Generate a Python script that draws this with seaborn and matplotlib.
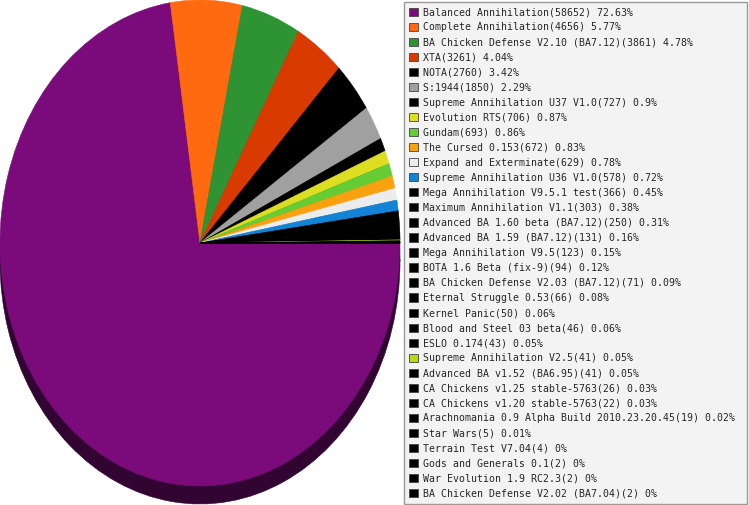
import numpy as np
import matplotlib
matplotlib.use("Agg")
import matplotlib.pyplot as plt
import matplotlib.colors as mcolors
from matplotlib.patches import Patch
import seaborn as sns

# mod names, game counts and the shares printed in the legend
mods = [
    "Balanced Annihilation", "Complete Annihilation", "BA Chicken Defense V2.10 (BA7.12)",
    "XTA", "NOTA", "S:1944", "Supreme Annihilation U37 V1.0", "Evolution RTS", "Gundam",
    "The Cursed 0.153", "Expand and Exterminate", "Supreme Annihilation U36 V1.0",
    "Mega Annihilation V9.5.1 test", "Maximum Annihilation V1.1", "Advanced BA 1.60 beta (BA7.12)",
    "Advanced BA 1.59 (BA7.12)", "Mega Annihilation V9.5", "BOTA 1.6 Beta (fix-9)",
    "BA Chicken Defense V2.03 (BA7.12)", "Eternal Struggle 0.53", "Kernel Panic",
    "Blood and Steel 03 beta", "ESLO 0.174", "Supreme Annihilation V2.5",
    "Advanced BA v1.52 (BA6.95)", "CA Chickens v1.25 stable-5763", "CA Chickens v1.20 stable-5763",
    "Arachnomania 0.9 Alpha Build 2010.23.20.45", "Star Wars", "Terrain Test V7.04",
    "Gods and Generals 0.1", "War Evolution 1.9 RC2.3", "BA Chicken Defense V2.02 (BA7.04)",
]
games = [58652, 4656, 3861, 3261, 2760, 1850, 727, 706, 693, 672, 629, 578,
         366, 303, 250, 131, 123, 94, 71, 66, 50, 46, 43, 41, 41, 26, 22, 19,
         5, 4, 2, 2, 2]
shares = ["72.63", "5.77", "4.78", "4.04", "3.42", "2.29", "0.9", "0.87", "0.86",
          "0.83", "0.78", "0.72", "0.45", "0.38", "0.31", "0.16", "0.15", "0.12",
          "0.09", "0.08", "0.06", "0.06", "0.05", "0.05", "0.05", "0.03", "0.03",
          "0.02", "0.01", "0", "0", "0", "0"]
colors = ["#7b0b7b", "#ff6a10", "#2e9433", "#d93a00", "#000000", "#a0a0a0",
          "#000000", "#dddd22", "#66cc33", "#f9a10e", "#ececec", "#1383d5"] \
    + ["#000000"] * 11 + ["#b5dc10"] + ["#000000"] * 9

sns.set_style("white")
plt.rcParams["font.family"] = ["DejaVu Sans Mono"]

W, H = 749, 505
fig = plt.figure(figsize=(W / 100, H / 100), dpi=100)
ax = fig.add_axes([0, 0, 400 / W, 1])

# pie is an ellipse: 400 px wide, ~486 px tall, with a dark side 18 px below
ry = 243.0

dark = [tuple(np.array(mcolors.to_rgb(c)) * 0.4) for c in colors]
side, _ = ax.pie(games, colors=dark, startangle=0, counterclock=False,
                 center=(0, -18 / ry), radius=1, frame=True,
                 wedgeprops=dict(linewidth=0.4))
wedges, _ = ax.pie(games, colors=colors, startangle=0, counterclock=False,
                   center=(0, 0), radius=1, frame=True,
                   wedgeprops=dict(linewidth=0.4))
# outline each wedge in its own colour so no seams show between slices
for w in list(side) + list(wedges):
    w.set_edgecolor(w.get_facecolor())

ax.set_aspect("auto")
ax.set_xlim(-1, 1)
ax.set_ylim(1 - H / ry, 1)
ax.axis("off")

labels = [f"{m}({g}) {s}%" for m, g, s in zip(mods, games, shares)]
handles = [Patch(facecolor=c, edgecolor="#444444", linewidth=0.6) for c in colors]
leg = fig.legend(handles, labels, loc="upper left", mode="expand",
                 bbox_to_anchor=(404 / W, 0, 343 / W, 1 - 2 / H),
                 bbox_transform=fig.transFigure,
                 fontsize=7.1, frameon=True, fancybox=False, framealpha=1,
                 handlelength=0.9, handleheight=0.9, handletextpad=0.45,
                 labelspacing=0.51, borderpad=0.55, borderaxespad=0)
leg.get_frame().set_facecolor("#f3f3f3")
leg.get_frame().set_edgecolor("#999999")
leg.get_frame().set_linewidth(1)

fig.savefig("out.png", dpi=100)
